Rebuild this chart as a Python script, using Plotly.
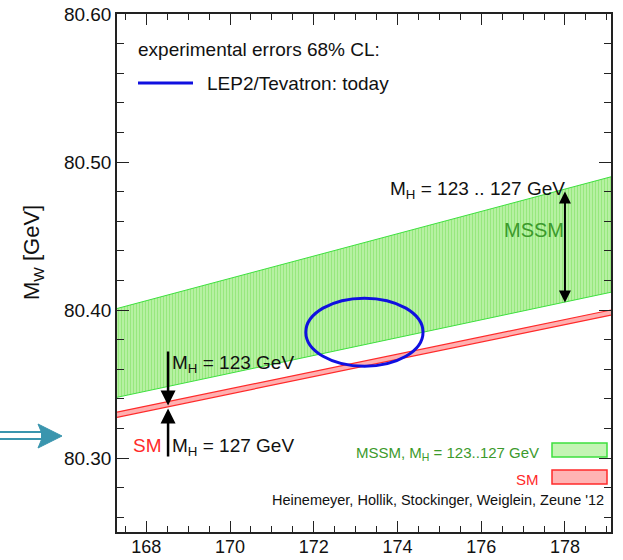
import plotly.graph_objects as go

# ---- data ----
mt_edges = [167.3, 179.1]
mssm_low = [80.341, 80.412]
mssm_high = [80.401, 80.490]
sm_low = [80.3275, 80.3965]
sm_high = [80.3310, 80.4000]

exp_mt, exp_mw = 173.21, 80.385
exp_dmt, exp_dmw = 1.40, 0.023

mssm_arrow_x = 178.0
mssm_arrow_y = [80.404, 80.480]
sm_arrow_x = 168.52
sm_arrow_upper = [80.373, 80.3355]
sm_arrow_lower = [80.300, 80.3335]

x_range = [167.3, 179.1]
y_range = [80.25, 80.60]

FONT = "Liberation Sans, Arial, sans-serif"
W, H = 623, 560
L, R, T, B = 117, 12, 14, 28
pw, ph = W - L - R, H - T - B


def px(xp):
    return (xp - L) / pw


def py(yp):
    return (H - B - yp) / ph


GREEN_EDGE = "#3ee03e"
GREEN_TXT = "#3c9a2c"
RED = "#ff2a2a"
TEAL = "#3a95ae"

fig = go.Figure()

# MSSM band
fig.add_trace(go.Scatter(x=mt_edges, y=mssm_low, mode="lines",
                         line=dict(color=GREEN_EDGE, width=1), showlegend=False, hoverinfo="skip"))
fig.add_trace(go.Scatter(x=mt_edges, y=mssm_high, mode="lines", fill="tonexty",
                         fillcolor="#a8ee92",
                         fillpattern=dict(shape="|", bgcolor="#c0f4ae", fgcolor="#6edc4e",
                                          size=3, solidity=0.5),
                         line=dict(color=GREEN_EDGE, width=1), showlegend=False, hoverinfo="skip"))
# SM band
fig.add_trace(go.Scatter(x=mt_edges, y=sm_low, mode="lines",
                         line=dict(color=RED, width=1.2), showlegend=False, hoverinfo="skip"))
fig.add_trace(go.Scatter(x=mt_edges, y=sm_high, mode="lines", fill="tonexty",
                         fillcolor="#ffb0b0",
                         line=dict(color=RED, width=1.2), showlegend=False, hoverinfo="skip"))
# invisible trace for the mirrored (top/right) tick axes
fig.add_trace(go.Scatter(x=[x_range[0]], y=[y_range[0]], xaxis="x2", yaxis="y2", mode="markers",
                         marker=dict(opacity=0), showlegend=False, hoverinfo="skip"))

shapes = []
# experimental ellipse
shapes.append(dict(type="circle", xref="x", yref="y",
                   x0=exp_mt - exp_dmt, x1=exp_mt + exp_dmt,
                   y0=exp_mw - exp_dmw, y1=exp_mw + exp_dmw,
                   line=dict(color="#1010e0", width=3)))
# top-left legend line
shapes.append(dict(type="line", xref="paper", yref="paper",
                   x0=px(138), x1=px(193), y0=py(83), y1=py(83),
                   line=dict(color="#1010e0", width=3)))
# bottom-right legend boxes
shapes.append(dict(type="rect", xref="paper", yref="paper",
                   x0=px(552), x1=px(607), y0=py(457), y1=py(443),
                   fillcolor="#c4f4b4", line=dict(color=GREEN_EDGE, width=1.5)))
shapes.append(dict(type="rect", xref="paper", yref="paper",
                   x0=px(552), x1=px(607), y0=py(484), y1=py(470),
                   fillcolor="#ffb4b4", line=dict(color=RED, width=1.5)))
# teal pointer arrow on the left (outside plot)
shapes.append(dict(type="rect", xref="paper", yref="paper",
                   x0=px(-2), x1=px(42), y0=py(439), y1=py(432),
                   fillcolor="white", line=dict(color=TEAL, width=2), layer="above"))
tri = f"M {px(38)},{py(424)} L {px(62)},{py(436)} L {px(38)},{py(448)} L {px(43)},{py(436)} Z"
shapes.append(dict(type="path", xref="paper", yref="paper", path=tri,
                   fillcolor=TEAL, line=dict(color=TEAL, width=1)))

annotations = []
# arrows
annotations.append(dict(x=mssm_arrow_x, y=mssm_arrow_y[1], ax=mssm_arrow_x, ay=mssm_arrow_y[0],
                        xref="x", yref="y", axref="x", ayref="y", text="", showarrow=True,
                        arrowhead=2, startarrowhead=2, arrowside="end+start", arrowsize=1.2,
                        startarrowsize=1.2, arrowwidth=2, arrowcolor="black"))
annotations.append(dict(x=sm_arrow_x, y=sm_arrow_upper[1], ax=sm_arrow_x, ay=sm_arrow_upper[0],
                        xref="x", yref="y", axref="x", ayref="y", text="", showarrow=True,
                        arrowhead=2, arrowsize=1.2, arrowwidth=2.5, arrowcolor="black"))
annotations.append(dict(x=sm_arrow_x, y=sm_arrow_lower[1], ax=sm_arrow_x, ay=sm_arrow_lower[0],
                        xref="x", yref="y", axref="x", ayref="y", text="", showarrow=True,
                        arrowhead=2, arrowsize=1.2, arrowwidth=2.5, arrowcolor="black"))


def txt(text, x, y, size, color="#111", xanchor="left", angle=0):
    annotations.append(dict(text=text, x=x, y=y, xref="paper", yref="paper", showarrow=False,
                            xanchor=xanchor, yanchor="middle", textangle=angle,
                            font=dict(family=FONT, size=size, color=color)))


txt("experimental errors 68% CL:", px(136), py(50), 19)
txt("LEP2/Tevatron: today", px(205), py(84), 19)
txt("M<sub>H</sub> = 123 .. 127 GeV", px(388), py(190), 19)
txt("MSSM", px(502), py(230), 20, color=GREEN_TXT)
txt("M<sub>H</sub> = 123 GeV", px(170), py(364), 19)
txt("SM", px(164), py(445), 19, color=RED, xanchor="right")
txt("M<sub>H</sub> = 127 GeV", px(170), py(447), 19)
txt("MSSM, M<sub>H</sub> = 123..127 GeV", px(541), py(453), 15, color=GREEN_TXT, xanchor="right")
txt("SM", px(541), py(479), 15, color=RED, xanchor="right")
txt("Heinemeyer, Hollik, Stockinger, Weiglein, Zeune '12", px(606), py(500), 14.5, xanchor="right")
# y-axis title
txt("M<sub>W</sub> [GeV]", px(33), py(253), 22, xanchor="center", angle=-90)

axis_common = dict(showgrid=False, zeroline=False, showline=True, linecolor="#222", linewidth=1.5,
                   ticks="inside", tickcolor="#222", tickwidth=1.2, automargin=False)

xa = dict(range=x_range, tick0=168, dtick=2, ticklen=11, ticklabelstandoff=-2,
          tickfont=dict(family=FONT, size=18, color="#111"),
          minor=dict(dtick=0.5, ticklen=6, ticks="inside", tickcolor="#222"), **axis_common)
ya = dict(range=y_range, tick0=80.3, dtick=0.1, tickformat=".2f", ticklen=12,
          tickfont=dict(family=FONT, size=19, color="#111"),
          minor=dict(dtick=0.02, ticklen=7, ticks="inside", tickcolor="#222"), **axis_common)

fig.update_layout(
    width=W, height=H,
    margin=dict(l=L, r=R, t=T, b=B),
    paper_bgcolor="white", plot_bgcolor="white",
    showlegend=False,
    xaxis=xa,
    yaxis=ya,
    xaxis2=dict(xa, overlaying="x", side="top", showticklabels=False, anchor="y2"),
    yaxis2=dict(ya, overlaying="y", side="right", showticklabels=False, anchor="x2"),
    shapes=shapes,
    annotations=annotations,
)

fig.write_html("out.html")
